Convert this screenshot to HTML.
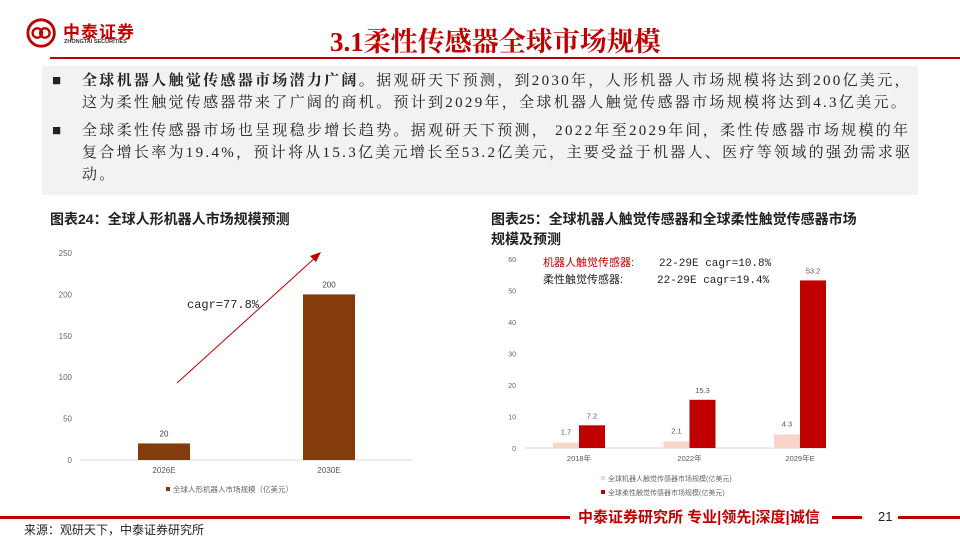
<!DOCTYPE html>
<html><head><meta charset="utf-8"><style>
body{margin:0;width:960px;height:540px;overflow:hidden;background:#fff;font-family:"Liberation Sans","Noto Sans CJK SC",sans-serif;position:relative}
.a{position:absolute}
.bul{font-family:"Liberation Serif","Noto Serif CJK SC",serif;font-size:15px;line-height:22px;color:#222;letter-spacing:2.3px;white-space:nowrap}
</style></head><body>
<div class="a" style="left:26px;top:17px;width:36px;height:32px">
<svg width="34" height="32" viewBox="0 0 36 32"><circle cx="16" cy="16" r="14" fill="none" stroke="#c00000" stroke-width="3"/><circle cx="12" cy="16" r="5" fill="none" stroke="#c00000" stroke-width="2.5"/><circle cx="20" cy="16" r="5" fill="none" stroke="#c00000" stroke-width="2.5"/></svg></div>
<div class="a" style="left:63px;top:18px;font-size:17px;font-weight:bold;color:#c00000;letter-spacing:1px">中泰证券</div>
<div class="a" style="left:64px;top:39px;font-size:5.5px;font-weight:bold;color:#333">ZHONGTAI SECURITIES</div>
<div class="a" style="left:330px;top:20px;font-family:'Liberation Serif','Noto Serif CJK SC',serif;font-size:27px;font-weight:bold;color:#c00000">3.1柔性传感器全球市场规模</div>
<div class="a" style="left:50px;top:57px;width:910px;height:2px;background:#c00000"></div>
<div class="a" style="left:42px;top:66px;width:876px;height:129px;background:#f2f2f2"></div>
<div class="a bul" style="left:52px;top:70px;width:860px"><span style="position:absolute;left:0">■</span><div style="margin-left:30px"><b>全球机器人触觉传感器市场潜力广阔。</b>据观研天下预测，到2030年，人形机器人市场规模将达到200亿美元，<br>这为柔性触觉传感器带来了广阔的商机。预计到2029年，全球机器人触觉传感器市场规模将达到4.3亿美元。</div></div>
<div class="a bul" style="left:52px;top:120px;width:860px"><span style="position:absolute;left:0">■</span><div style="margin-left:30px">全球柔性传感器市场也呈现稳步增长趋势。据观研天下预测， 2022年至2029年间，柔性传感器市场规模的年<br>复合增长率为19.4%，预计将从15.3亿美元增长至53.2亿美元，主要受益于机器人、医疗等领域的强劲需求驱<br>动。</div></div>
<div class="a" style="left:50px;top:209px;font-size:14px;font-weight:bold;color:#222">图表24：全球人形机器人市场规模预测</div>
<div class="a" style="left:491px;top:209px;width:430px;font-size:14px;font-weight:bold;color:#222;line-height:20px">图表25：全球机器人触觉传感器和全球柔性触觉传感器市场<br>规模及预测</div>
<svg class="a" style="left:0;top:0" width="960" height="540" id="charts"></svg>
<div class="a" style="left:0;top:516px;width:570px;height:3px;background:#c00000"></div>
<div class="a" style="left:578px;top:506px;font-size:15px;font-weight:bold;color:#c00000">中泰证券研究所 专业|领先|深度|诚信</div>
<div class="a" style="left:832px;top:516px;width:30px;height:3px;background:#c00000"></div>
<div class="a" style="left:878px;top:509px;font-size:13px;color:#222">21</div>
<div class="a" style="left:898px;top:516px;width:62px;height:3px;background:#c00000"></div>
<div class="a" style="left:24px;top:521px;font-size:12px;color:#222">来源：观研天下，中泰证券研究所</div>
<script>
const c1Cats=["2026E","2030E"];
const c1Vals=[20,200];
const c1Ticks=[0,50,100,150,200,250];
const c2Cats=["2018年","2022年","2029年E"];
const c2Robot=[1.7,2.1,4.3];
const c2Flex=[7.2,15.3,53.2];
const c2Ticks=[0,10,20,30,40,50,60];
const svg=document.getElementById('charts');
const NS='http://www.w3.org/2000/svg';
function mk(t,a,txt){const e=document.createElementNS(NS,t);for(const k in a)e.setAttribute(k,a[k]);if(txt!==undefined)e.textContent=txt;svg.appendChild(e);return e;}
// chart 1
const y1=v=>460-v*(207/250);
const x1=i=>164+i*165;
c1Ticks.forEach(t=>{const e=mk('text',{x:72,y:y1(t)+3,'text-anchor':'end','font-size':8,fill:'#666'},t);

});
let ax=mk('line',{x1:80,x2:412,y1:460,y2:460,stroke:'#d9d9d9'});


c1Vals.forEach((v,i)=>{const b=mk('rect',{x:x1(i)-26,y:y1(v),width:52,height:460-y1(v),fill:'#843c0c'});


const l=mk('text',{x:x1(i),y:y1(v)-7,'text-anchor':'middle','font-size':8,fill:'#444'},v);


const c=mk('text',{x:x1(i),y:473,'text-anchor':'middle','font-size':8,fill:'#555'},c1Cats[i]);

});
const ar=mk('line',{x1:177,y1:383,x2:316,y2:257,stroke:'#c00000','stroke-width':1});


const ah=mk('polygon',{points:'321,252 310,256 316,262',fill:'#c00000'});


const cg=mk('text',{x:187,y:308,'font-size':12,fill:'#222','font-family':'Liberation Mono,monospace'},'cagr=77.8%');


const lg1=mk('rect',{x:166,y:487,width:4,height:4,fill:'#843c0c'});


const lt1=mk('text',{x:173,y:492,'font-size':7.5,fill:'#666'},'全球人形机器人市场规模（亿美元）');


// chart 2
const y2=v=>448-v*(189/60);
const x2=i=>579+i*110.5;
c2Ticks.forEach(t=>{const e=mk('text',{x:516,y:y2(t)+3,'text-anchor':'end','font-size':7,fill:'#666'},t);

});
ax=mk('line',{x1:525,x2:828,y1:448,y2:448,stroke:'#d9d9d9'});


c2Cats.forEach((cat,i)=>{
const a=mk('rect',{x:x2(i)-26,y:y2(c2Robot[i]),width:26,height:448-y2(c2Robot[i]),fill:'#f8d5cb'});


const b=mk('rect',{x:x2(i),y:y2(c2Flex[i]),width:26,height:448-y2(c2Flex[i]),fill:'#c00000'});


const la=mk('text',{x:x2(i)-13,y:y2(c2Robot[i])-8,'text-anchor':'middle','font-size':7.5,fill:'#555'},c2Robot[i]);


const lb=mk('text',{x:x2(i)+13,y:y2(c2Flex[i])-7,'text-anchor':'middle','font-size':7.5,fill:'#555'},c2Flex[i]);


const cl=mk('text',{x:x2(i),y:461,'text-anchor':'middle','font-size':7.5,fill:'#555'},cat);

});
const n1=mk('text',{x:543,y:266,'font-size':11,fill:'#c00000'},'机器人触觉传感器: ');


const n1b=mk('text',{x:659,y:266,'font-size':11,fill:'#222','font-family':'Liberation Mono,monospace'},'22-29E cagr=10.8%');


const n2=mk('text',{x:543,y:283,'font-size':11,fill:'#222'},'柔性触觉传感器:');


const n2b=mk('text',{x:657,y:283,'font-size':11,fill:'#222','font-family':'Liberation Mono,monospace'},'22-29E cagr=19.4%');


const s1=mk('rect',{x:601,y:476,width:4,height:4,fill:'#f8d5cb'});


const t1=mk('text',{x:608,y:481,'font-size':7,fill:'#666'},'全球机器人触觉传感器市场规模(亿美元)');


const s2=mk('rect',{x:601,y:490,width:4,height:4,fill:'#c00000'});


const t2=mk('text',{x:608,y:495,'font-size':7,fill:'#666'},'全球柔性触觉传感器市场规模(亿美元)');


</script>
</body></html>
